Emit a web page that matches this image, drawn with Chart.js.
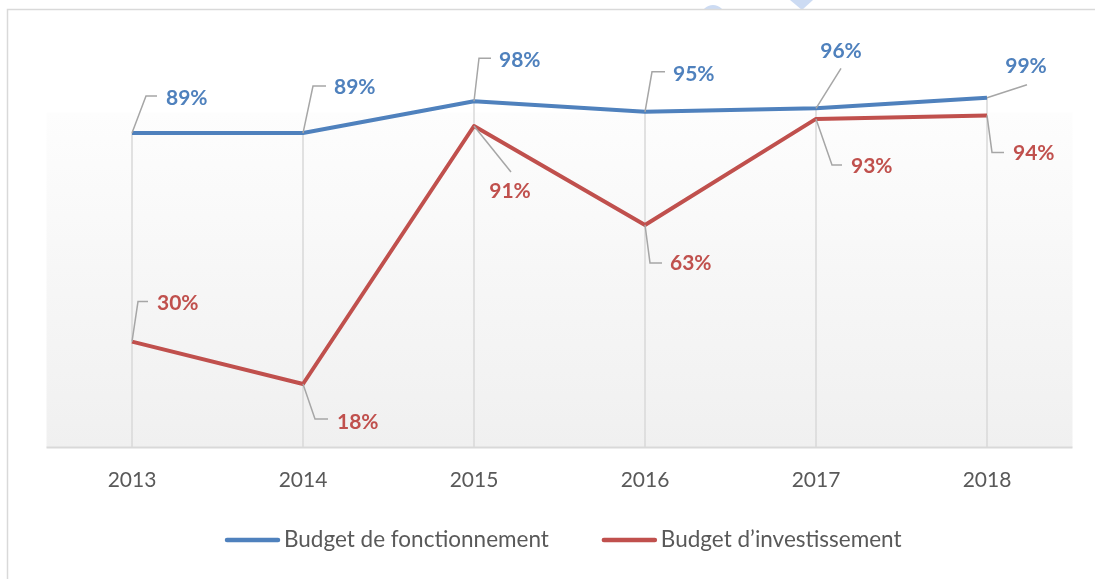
<!DOCTYPE html>
<html>
<head>
<meta charset="utf-8">
<script src="https://cdn.jsdelivr.net/npm/chart.js@4.4.1/dist/chart.umd.min.js"></script>
<style>
html, body { margin: 0; padding: 0; background: #fff; }
</style>
</head>
<body>
<canvas id="mycanvas" width="1095" height="579"></canvas>
<script>
var years = ['2013', '2014', '2015', '2016', '2017', '2018'];
var fonctionnement = [89, 89, 98, 95, 96, 99];
var investissement = [30, 18, 91, 63, 93, 94];
var seriesNames = ['Budget de fonctionnement', 'Budget d\u2019investissement'];

var blue = '#4f81bd';
var red = '#c0504d';
var grey = '#595959';

/* where each data label sits, relative to its point: leader path + text anchor */
var leaders = [
	[
		{ path: [[14, -37], [25, -37]], text: [34, -35], align: 'left' },
		{ path: [[10, -47], [23, -47]], text: [31, -46], align: 'left' },
		{ path: [[5, -43], [17, -43]], text: [25, -41], align: 'left' },
		{ path: [[7, -40], [20, -40]], text: [28, -38], align: 'left' },
		{ path: [[25, -40]], text: [25, -57], align: 'center' },
		{ path: [[40, -13]], text: [39, -31], align: 'center' }
	],
	[
		{ path: [[6, -40], [16, -40]], text: [25, -38], align: 'left' },
		{ path: [[12, 35], [25, 35]], text: [34, 38], align: 'left' },
		{ path: [[37, 46]], text: [36, 65], align: 'center' },
		{ path: [[5, 38], [17, 38]], text: [25, 38], align: 'left' },
		{ path: [[16, 46], [26, 46]], text: [35, 47], align: 'left' },
		{ path: [[5, 37], [17, 37]], text: [26, 38], align: 'left' }
	]
];

var excelLook = {
	id: 'excelLook',
	beforeDraw: function(chart) {
		var ctx = chart.ctx, a = chart.chartArea;
		ctx.save();
		/* faint watermark bits at the top */
		ctx.fillStyle = 'rgba(170,195,235,0.6)';
		ctx.beginPath(); ctx.arc(713, 17, 12, 0, Math.PI * 2); ctx.fill();
		ctx.beginPath(); ctx.moveTo(790, 0); ctx.lineTo(813, 0); ctx.lineTo(802, 10); ctx.closePath(); ctx.fill();
		ctx.fillStyle = '#fff';
		ctx.fillRect(0, 10, chart.width, 20);
		/* outer frame */
		ctx.strokeStyle = '#d9d9d9';
		ctx.lineWidth = 1.5;
		ctx.beginPath();
		ctx.moveTo(7.5, chart.height); ctx.lineTo(7.5, 9.5); ctx.lineTo(chart.width, 9.5);
		ctx.stroke();
		/* plot area gradient */
		var top = a.top + (a.bottom - a.top) * 0.21;
		var g = ctx.createLinearGradient(0, top, 0, a.bottom);
		g.addColorStop(0, '#fdfdfd');
		g.addColorStop(1, '#f0f0f0');
		ctx.fillStyle = g;
		ctx.fillRect(a.left, top, a.right - a.left, a.bottom - top);
		ctx.restore();
	},
	beforeDatasetsDraw: function(chart) {
		var ctx = chart.ctx, a = chart.chartArea;
		var m0 = chart.getDatasetMeta(0).data, m1 = chart.getDatasetMeta(1).data;
		ctx.save();
		ctx.strokeStyle = '#d9d9d9';
		ctx.lineWidth = 1.5;
		for (var j = 0; j < m0.length; j++) {
			var yTop = Math.min(m0[j].y, m1[j].y);
			ctx.beginPath();
			ctx.moveTo(m0[j].x, yTop); ctx.lineTo(m0[j].x, a.bottom);
			ctx.stroke();
		}
		ctx.lineWidth = 2;
		ctx.beginPath();
		ctx.moveTo(a.left, a.bottom); ctx.lineTo(a.right, a.bottom);
		ctx.stroke();
		ctx.restore();
	},
	afterDatasetsDraw: function(chart) {
		var ctx = chart.ctx;
		ctx.save();
		chart.data.datasets.forEach(function(ds, i) {
			var pts = chart.getDatasetMeta(i).data;
			pts.forEach(function(p, j) {
				var L = leaders[i][j];
				ctx.strokeStyle = '#a6a6a6';
				ctx.lineWidth = 1.5;
				ctx.beginPath();
				ctx.moveTo(p.x, p.y);
				L.path.forEach(function(q) { ctx.lineTo(p.x + q[0], p.y + q[1]); });
				ctx.stroke();
				ctx.fillStyle = ds.borderColor;
				ctx.font = 'bold 21px Lato';
				ctx.textAlign = L.align;
				ctx.textBaseline = 'middle';
				ctx.fillText(ds.data[j] + '%', p.x + L.text[0], p.y + L.text[1]);
			});
		});
		ctx.restore();
	},
	afterDraw: function(chart) {
		/* legend, Excel style: long line sample right against the text */
		var ctx = chart.ctx;
		var x = 225, y = 540;
		ctx.save();
		ctx.font = '22.5px Lato';
		ctx.textBaseline = 'middle';
		ctx.textAlign = 'left';
		chart.data.datasets.forEach(function(ds) {
			ctx.strokeStyle = ds.borderColor;
			ctx.lineWidth = 4.5;
			ctx.lineCap = 'round';
			ctx.beginPath();
			ctx.moveTo(x + 2, y); ctx.lineTo(x + 53, y);
			ctx.stroke();
			ctx.fillStyle = grey;
			ctx.fillText(ds.label, x + 59, y);
			x += 59 + ctx.measureText(ds.label).width + 53;
		});
		ctx.restore();
	}
};

var ctx = document.getElementById('mycanvas');
var lineChart = new Chart(ctx, {
	type: 'line',
	data: {
		labels: years,
		datasets: [
			{ label: seriesNames[0], data: fonctionnement, borderColor: blue, backgroundColor: blue },
			{ label: seriesNames[1], data: investissement, borderColor: red, backgroundColor: red }
		]
	},
	options: {
		responsive: false,
		animation: false,
		layout: { padding: { left: 46.5, right: 22.5, top: 23.5, bottom: 66.2 } },
		plugins: {
			legend: { display: false },
			tooltip: { enabled: false }
		},
		elements: {
			point: { radius: 0, hoverRadius: 0 },
			line: { borderWidth: 4, tension: 0, borderJoinStyle: 'round', borderCapStyle: 'butt' }
		},
		scales: {
			x: {
				offset: true,
				grid: { display: false, drawTicks: false },
				border: { display: false },
				ticks: { color: grey, font: { family: 'Lato', size: 21 }, padding: 20 }
			},
			y: { display: false, min: 0, max: 120 }
		}
	},
	plugins: [excelLook]
});
</script>
</body>
</html>
